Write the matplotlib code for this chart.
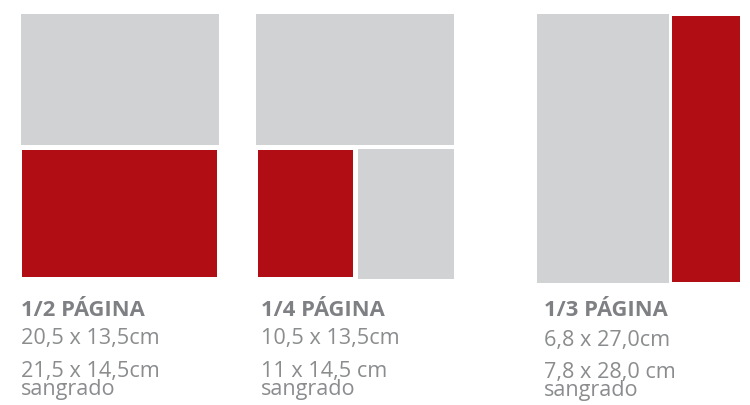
import matplotlib
matplotlib.use("Agg")
import matplotlib.pyplot as plt
from matplotlib.patches import Rectangle

# ---- data (labels) ----
titles = ["1/2 PÁGINA", "1/4 PÁGINA", "1/3 PÁGINA"]
sizes = ["20,5 x 13,5cm", "10,5 x 13,5cm", "6,8 x 27,0cm"]
bleed_sizes = ["21,5 x 14,5cm", "11 x 14,5 cm", "7,8 x 28,0 cm"]
bleed_label = ["sangrado", "sangrado", "sangrado"]

# ---- layout / style ----
GRAY = "#D1D2D4"
RED = "#B00D14"
TEXT = "#8A8C8E"
TITLE = "#7E8083"

# rectangles: (x0, y0, x1, y1, color) in pixel coordinates
rects = [
    (21, 15, 218.5, 145.5, GRAY),
    (22.3, 151, 217.3, 278.3, RED),
    (256.3, 15, 453.7, 145.5, GRAY),
    (257.7, 151.3, 353.3, 278.3, RED),
    (357.7, 150, 454, 280, GRAY),
    (536.7, 15, 669.3, 284.3, GRAY),
    (672, 16.7, 740.3, 283.3, RED),
]
text_x = [21, 261, 544]
title_y = [315.7, 315.7, 316]
size_y = [344.3, 344.3, 346]
label_y = [395, 395, 396]

fig = plt.figure(figsize=(7.5, 4.06), dpi=100)
ax = fig.add_axes([0, 0, 1, 1])
ax.set_xlim(0, 750)
ax.set_ylim(406, 0)
ax.axis("off")

for x0, y0, x1, y1, c in rects:
    ax.add_patch(Rectangle((x0, y0), x1 - x0, y1 - y0, facecolor=c,
                           edgecolor="none"))

fam = ["Open Sans", "DejaVu Sans"]
FS = 15.6
for i in range(3):
    ax.text(text_x[i], title_y[i], titles[i], fontsize=15.8, fontweight="bold",
            color=TITLE, family=fam, va="baseline", ha="left")
    ax.text(text_x[i], size_y[i], sizes[i], fontsize=FS,
            color=TEXT, family=fam, va="baseline", ha="left")
    ax.text(text_x[i], label_y[i], bleed_sizes[i] + "\n" + bleed_label[i],
            fontsize=FS, linespacing=0.79,
            color=TEXT, family=fam, va="baseline", ha="left")

fig.savefig("out.png", dpi=100, facecolor="white")
